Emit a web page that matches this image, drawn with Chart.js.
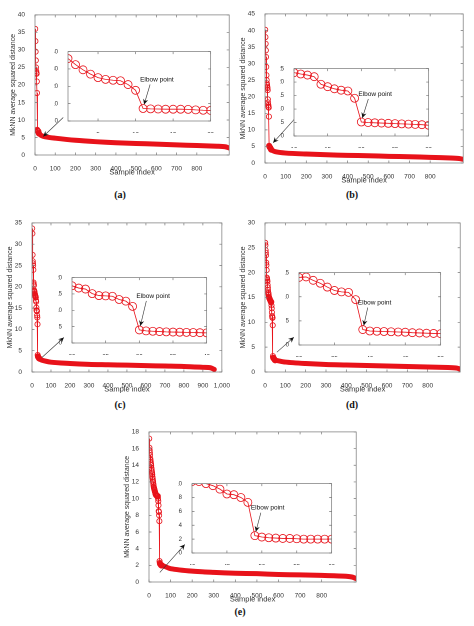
<!DOCTYPE html>
<html><head><meta charset="utf-8">
<script src="https://cdn.jsdelivr.net/npm/chart.js@4"></script>
<style>
body{margin:0;width:474px;height:626px;background:#fff;position:relative;overflow:hidden}
canvas{position:absolute}
.lab{position:absolute;font:bold 10px "Liberation Serif",serif;color:#111;transform:translateX(-50%)}
</style></head><body>
<div class="lab" style="left:120px;top:189px">(a)</div>
<div class="lab" style="left:352px;top:189px">(b)</div>
<div class="lab" style="left:120px;top:399px">(c)</div>
<div class="lab" style="left:352px;top:399px">(d)</div>
<div class="lab" style="left:240px;top:606px">(e)</div>
<script>
// ---------- data ----------
const headStartA = 1;
const headA = [36,32.5,29.5,27,25,24,23.5,23.2,21,17.7,7.2,7,6.9,6.8,6.8,6.8,6.7,6.4,6.2,6.1];
const tailXA = [20,30,50,100,200,300,400,500,600,700,800,900,940,960];
const tailYA = [6.1,5.6,5.2,4.8,4.2,3.8,3.5,3.3,3.1,2.9,2.7,2.5,2.35,2.0];

const headStartB = 1;
const headB = [40.2,38,36,34,32,29,26.5,25,24,23.5,23,22.6,22,19.2,18.3,17.5,17,16.7,14,5.2,5,4.9,4.8,4.7,4.6,4.5,4.4,4.3,4.2,4.0];
const tailXB = [30,50,100,200,300,400,500,600,700,800,900,940,960];
const tailYB = [4.0,3.4,3.0,2.7,2.5,2.3,2.2,2.0,1.9,1.7,1.5,1.35,1.1];

const headStartC = 1;
const headC = [33.7,32.5,27.5,26,25.5,25,24,21,20.6,20.3,19.2,19,18.8,18.5,18.3,18.1,17.9,17.8,17.6,
  17.5,16.8,16.5,15.1,14.5,14.4,14.3,13.3,12.8,11.2,4,3.7,3.6,3.5,3.4,3.35,3.3,3.25,3.2,3.15,3.1];
const tailXC = [40,50,100,200,300,400,500,600,700,800,900,940,960];
const tailYC = [3.1,2.8,2.3,2.0,1.8,1.7,1.6,1.5,1.4,1.3,1.1,1.0,0.6];

const headStartD = 1;
const headD = [26,25.5,24.5,24,23.5,22,21.5,20.5,19,18.8,18.5,18.2,17.5,17,16.5,16,15.8,15.5,15.2,15,14.9,14.8,14.7,14.6,14.5,14.4,14.3,14.2,14.1,
  14,14.1,13.4,12.8,12,11.3,11,10.9,9.4,3.2,2.9,2.85,2.8,2.75,2.7,2.65,2.55,2.5,2.45,2.4,2.35];
const tailXD = [50,60,100,200,300,400,500,600,700,800,900,940,960];
const tailYD = [2.35,2.3,2.0,1.7,1.5,1.4,1.3,1.2,1.1,1.0,0.9,0.8,0.6];

const headStartE = 1;
const headE = [17.2,16.1,15.8,15.5,15.2,14.8,14.6,14.4,14.2,14.0,13.7,13.5,13.3,13.1,12.9,12.6,12.4,12.2,12.0,11.8,11.6,11.4,11.3,11.2,11.1,11.0,10.9,10.8,10.7,10.6,10.5,10.5,10.4,10.4,10.4,10.35,10.3,10.3,10.3,
  10.3,10.3,10,9.7,9.2,8.5,8.4,8,7.3,2.5,2.3,2.2,2.15,2.1,2.1,2.05,2.0,2.0,2.0,2.0,2.0];
const tailXE = [60,70,100,200,300,400,500,600,700,800,900,940,960];
const tailYE = [2.0,1.9,1.6,1.3,1.15,1.05,1.0,0.9,0.85,0.8,0.7,0.6,0.4];

// ---------- helpers ----------
const RED = '#e8121a';
function pts(start, vals){ return vals.map((v,i)=>({x:start+i,y:v})); }
function ptsXY(xs, ys){ return xs.map((x,i)=>({x:x,y:ys[i]})); }

const boxPlugin = {
  id:'box',
  beforeDraw(c){ const a=c.chartArea, g=c.ctx; if(c.options.plugins.box && c.options.plugins.box.fill){g.save();g.fillStyle='#fff';g.fillRect(a.left,a.top,a.right-a.left,a.bottom-a.top);g.restore();} },
  afterDraw(c){
    const a=c.chartArea, g=c.ctx; g.save(); g.strokeStyle='#777'; g.lineWidth=0.7;
    g.strokeRect(a.left,a.top,a.right-a.left,a.bottom-a.top);
    const xs=c.scales.x, ys=c.scales.y;
    xs.ticks.forEach(t=>{const p=xs.getPixelForValue(t.value); g.beginPath(); g.moveTo(p,a.bottom); g.lineTo(p,a.bottom-2.5); g.moveTo(p,a.top); g.lineTo(p,a.top+2.5); g.stroke();});
    ys.ticks.forEach(t=>{const p=ys.getPixelForValue(t.value); g.beginPath(); g.moveTo(a.left,p); g.lineTo(a.left+2.5,p); g.moveTo(a.right,p); g.lineTo(a.right-2.5,p); g.stroke();});
    const ar=c.options.plugins.box && c.options.plugins.box.arrow;
    if(ar){
      const tx=xs.getPixelForValue(ar.x)+ar.ox, ty=ys.getPixelForValue(ar.y)+ar.oy;
      const sx=tx+ar.dx, sy=ty+ar.dy;
      g.strokeStyle='#333'; g.fillStyle='#111'; g.lineWidth=0.6;
      g.beginPath(); g.moveTo(sx,sy); g.lineTo(tx,ty); g.stroke();
      const ang=Math.atan2(ty-sy,tx-sx), L=6, W=0.45;
      g.beginPath(); g.moveTo(tx,ty);
      g.lineTo(tx-L*Math.cos(ang-W), ty-L*Math.sin(ang-W));
      g.lineTo(tx-L*0.6*Math.cos(ang), ty-L*0.6*Math.sin(ang));
      g.lineTo(tx-L*Math.cos(ang+W), ty-L*Math.sin(ang+W)); g.closePath(); g.fill();
      if(ar.text){ g.font='6.5px "Liberation Sans",Arial'; g.fillStyle='#111'; g.textAlign='left'; g.fillText(ar.text, sx-10, sy-3); }
    }
    g.restore();
  }
};
Chart.register(boxPlugin);

function mk(left, top, w, h, opt){
  const cv=document.createElement('canvas');
  cv.style.left=left+'px'; cv.style.top=top+'px'; cv.style.width=w+'px'; cv.style.height=h+'px';
  cv.width=w; cv.height=h;
  document.body.appendChild(cv);
  const inset=opt.inset;
  const fs=inset?6:6.5;
  const datasets=[{data:opt.head, borderColor:RED, backgroundColor:'rgba(0,0,0,0)', borderWidth:0.8,
      pointRadius:inset?4:2.6, pointBorderWidth:0.8, pointBorderColor:RED, pointBackgroundColor:'rgba(0,0,0,0)', tension:0}];
  if(opt.tail) datasets.push({data:opt.tail, borderColor:RED, borderWidth:5, pointRadius:0, tension:0.3, borderCapStyle:'round'});
  new Chart(cv,{type:'line',data:{datasets},
    options:{responsive:false,devicePixelRatio:2,animation:false,
      layout:{padding:{top:4,right:4,left:0,bottom:0}},
      plugins:{legend:{display:false},tooltip:{enabled:false},box:{fill:inset,arrow:opt.arrow}},
      scales:{
        x:{type:'linear',min:opt.xmin,max:opt.xmax,grid:{display:false},border:{display:false},
          ticks:{stepSize:opt.xstep,color:'#333',font:{size:fs,family:'Liberation Sans'},padding:2,maxRotation:0,autoSkip:false},
          afterBuildTicks:s=>{s.ticks=s.ticks.filter(t=>Math.abs(t.value/opt.xstep-Math.round(t.value/opt.xstep))<1e-6);},
          afterFit:s=>{s.height=inset?12:22;},
          title:{display:!inset,text:'Sample index',color:'#333',font:{size:7.5,family:'Liberation Sans'},padding:0}},
        y:{min:0,max:opt.ymax,grid:{display:false},border:{display:false},
          ticks:{stepSize:opt.ystep,color:'#333',font:{size:fs,family:'Liberation Sans'},padding:2},
          afterFit:s=>{s.width=inset?14:26;},
          title:{display:!inset,text:'MkNN average squared distance',color:'#333',font:{size:7,family:'Liberation Sans'},padding:0}}
      }}});
}
function inset(left, top, right, bottom, opt){
  opt.inset=true;
  mk(left-14, top-4, right-left+18, bottom-top+16, opt);
}
function sub(start, vals, a, b){ return pts(start, vals).filter(p=>p.x>=a && p.x<=b); }

// (a)
mk(9,9,225,168,{head:pts(headStartA,headA),tail:ptsXY(tailXA,tailYA),xmin:0,xmax:960,xstep:100,ymax:40,ystep:5,
  arrow:{x:11,y:7,ox:6,oy:6,dx:20,dy:-19}});
inset(68,50,212,121,{head:sub(headStartA,headA,1,20),xmin:1,xmax:20,xstep:5,ymax:40,ystep:10,
  arrow:{x:11,y:7.2,ox:1,oy:-4,dx:6,dy:-20,text:'Elbow point'}});
// (b)
mk(239,8,229,177,{head:pts(headStartB,headB),tail:ptsXY(tailXB,tailYB),xmin:0,xmax:960,xstep:100,ymax:45,ystep:5,
  arrow:{x:20,y:5.2,ox:4,oy:-3,dx:27,dy:-30}});
inset(294,67,430,136,{head:sub(headStartB,headB,10,30),xmin:10,xmax:30,xstep:5,ymax:25,ystep:5,
  arrow:{x:20,y:5.2,ox:1,oy:-4,dx:6,dy:-19,text:'Elbow point'}});
// (c)
mk(6,217,226,177,{head:pts(headStartC,headC),tail:ptsXY(tailXC,tailYC),xmin:0,xmax:1000,xstep:100,ymax:35,ystep:5,
  arrow:{x:168,y:8.1,ox:0,oy:0,dx:-22,dy:20}});
inset(72,276,208,343,{head:sub(headStartC,headC,20,40),xmin:20,xmax:40,xstep:5,ymax:20,ystep:5,
  arrow:{x:30,y:4,ox:1,oy:-4,dx:6,dy:-25,text:'Elbow point'}});
// (d)
mk(239,217,226,177,{head:pts(headStartD,headD),tail:ptsXY(tailXD,tailYD),xmin:0,xmax:960,xstep:100,ymax:30,ystep:5,
  arrow:{x:142,y:7,ox:0,oy:0,dx:-17,dy:15}});
inset(299,271,442,345,{head:sub(headStartD,headD,30,50),xmin:30,xmax:50,xstep:5,ymax:15,ystep:5,
  arrow:{x:39,y:3.2,ox:1,oy:-4,dx:4,dy:-18,text:'Elbow point'}});
// (e)
mk(123,426,238,178,{head:pts(headStartE,headE),tail:ptsXY(tailXE,tailYE),xmin:0,xmax:960,xstep:100,ymax:18,ystep:2,
  arrow:{x:166,y:4.5,ox:0,oy:0,dx:-25,dy:28}});
inset(192,482,333,553,{head:sub(headStartE,headE,40,60),xmin:40,xmax:60,xstep:5,ymax:10,ystep:2,
  arrow:{x:49,y:2.5,ox:1,oy:-4,dx:5,dy:-19,text:'Elbow point'}});
</script></body></html>
